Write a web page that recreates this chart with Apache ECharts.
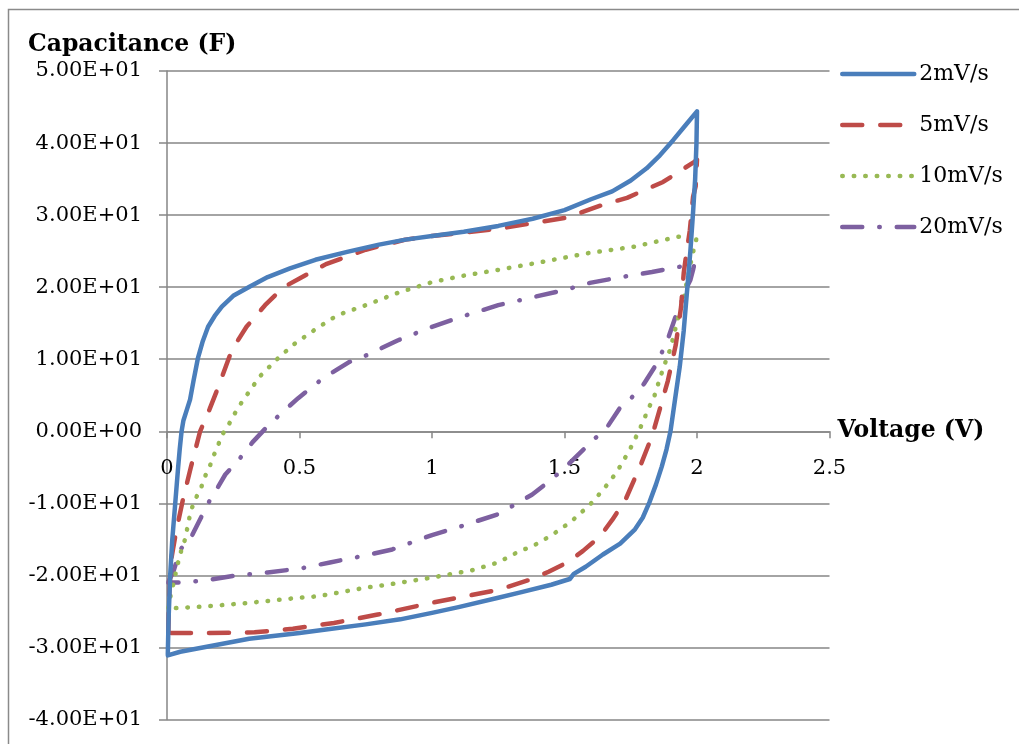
<!DOCTYPE html>
<html><head><meta charset="utf-8">
<script src="https://cdn.jsdelivr.net/npm/echarts@6/dist/echarts.min.js"></script>
<style>html,body{margin:0;padding:0;background:#fff}#c{width:1019px;height:744px}</style>
</head><body><div id="c"></div>
<script>
var seriesNames = ['2mV/s', '5mV/s', '10mV/s', '20mV/s'];
var xTicks = ['0', '0.5', '1', '1.5', '2', '2.5'];

var x2 = [0.003,0.006,0.012,0.02,0.03,0.042,0.048,0.055,0.062,0.075,0.087,0.1,0.117,0.135,0.155,0.18,0.207,0.25,0.313,0.38,0.464,0.56,0.68,0.8,0.9,1.0,1.12,1.25,1.38,1.5,1.6,1.68,1.75,1.81,1.86,1.91,1.955,2.0,
  1.998,1.993,1.985,1.975,1.966,1.958,1.95,1.935,1.917,1.9,1.885,1.867,1.845,1.82,1.795,1.766,1.71,1.645,1.58,1.535,1.52,1.45,1.33,1.25,1.1,1.0,0.88,0.75,0.6,0.5,0.31,0.15,0.05,0.003];
var y2 = [-31,-26,-20,-15,-10.5,-5,-2.5,0,1.5,3,4.4,7,10.2,12.5,14.5,16,17.3,18.8,20.1,21.4,22.6,23.8,24.9,25.9,26.6,27.1,27.7,28.5,29.5,30.7,32.2,33.3,34.8,36.5,38.3,40.4,42.4,44.4,
  40,35,30.3,25,21,17.5,14,9,4.4,0,-2.5,-4.9,-7.4,-9.9,-12,-13.6,-15.6,-17.1,-18.8,-19.8,-20.5,-21.3,-22.4,-23.1,-24.4,-25.2,-26.1,-26.8,-27.5,-28,-28.8,-29.9,-30.6,-31.1];

var x5 = [0.005,0.008,0.015,0.034,0.06,0.09,0.125,0.16,0.19,0.245,0.3,0.37,0.44,0.5,0.6,0.75,0.9,1.0,1.25,1.5,1.558,1.65,1.736,1.872,1.99,2.0,
  1.995,1.985,1.973,1.96,1.95,1.94,1.92,1.89,1.87,1.83,1.785,1.73,1.68,1.634,1.57,1.51,1.44,1.37,1.25,1.0,0.8,0.63,0.475,0.33,0.15,0.01];
var y5 = [-28,-23,-18,-14,-9.5,-5,0,3,5.8,11.3,14.5,17.5,20,21.2,23.2,25.2,26.6,27.1,28.1,29.6,30.3,31.5,32.4,34.6,37.4,37.7,
  34,32.5,27.9,24.7,22,17.3,12,7,4.4,-0.7,-4.9,-9.5,-12.3,-14.6,-16.6,-18.2,-19.5,-20.6,-22,-23.8,-25.4,-26.6,-27.4,-27.9,-28,-28];

var x10 = [0.005,0.01,0.025,0.04,0.05,0.068,0.09,0.11,0.13,0.143,0.162,0.177,0.193,0.21,0.234,0.253,0.276,0.31,0.35,0.415,0.476,0.546,0.62,0.665,0.75,0.87,1.0,1.12,1.25,1.4,1.5,1.585,1.76,1.93,2.0,
  1.995,1.99,1.98,1.966,1.955,1.95,1.936,1.925,1.9,1.875,1.857,1.835,1.815,1.8,1.78,1.763,1.743,1.72,1.7,1.672,1.646,1.62,1.588,1.555,1.524,1.487,1.453,1.415,1.377,1.332,1.25,1.15,1.0,0.83,0.75,0.57,0.5,0.313,0.15,0.05,0.005];
var y10 = [-24.5,-23.4,-21,-18.5,-17,-15,-11,-9.2,-7.7,-6.3,-4.8,-3.3,-1.9,-0.4,1,2.3,3.7,5.5,7.6,10,12,13.8,15.6,16.4,17.5,19.2,20.7,21.6,22.4,23.4,24.1,24.7,25.6,27,27.2,
  26.2,25.6,24,21.4,19.6,18.2,16.8,15.2,11.5,9,7,4.4,3.1,1.6,0,-1.3,-2.8,-4.2,-5.5,-6.9,-8.1,-9.2,-10.5,-11.5,-12.6,-13.5,-14.4,-15.2,-16,-16.6,-18.2,-19.3,-20.3,-21.3,-21.7,-22.9,-23.1,-23.8,-24.3,-24.5,-24.6];

var x20 = [0.005,0.01,0.023,0.05,0.087,0.155,0.18,0.22,0.27,0.323,0.377,0.434,0.495,0.59,0.687,0.75,0.87,1.0,1.12,1.25,1.38,1.5,1.596,1.715,1.83,1.93,1.99,
  1.985,1.975,1.96,1.94,1.917,1.89,1.85,1.8,1.747,1.71,1.665,1.59,1.55,1.495,1.426,1.377,1.25,1.1,1.0,0.85,0.74,0.615,0.51,0.38,0.264,0.143,0.05,0.005];
var y20 = [-21,-20.5,-19.6,-16.4,-15,-10,-8.5,-6,-4,-1.5,0.6,2.6,4.6,7.4,9.6,10.5,12.6,14.5,16,17.5,18.6,19.6,20.6,21.4,22.1,22.8,23.2,
  22.4,21,19.9,17.8,15.7,12.8,9.5,6.6,4.4,3.3,0.8,-1.9,-3.3,-5.3,-7.4,-8.8,-11.5,-13.3,-14.4,-16.4,-17.3,-18.2,-19,-19.6,-20,-20.7,-21,-21];

function zip(xs, ys){ return xs.map(function(x,i){ return [x, ys[i]]; }); }
var colors = ['#4A7EBB', '#BE4B48', '#98B954', '#7D60A0'];
var styles = [
  {width:4.5, type:'solid', cap:'round', join:'round'},
  {width:4.5, type:[20,18], cap:'round', join:'round'},
  {width:4.5, type:[0.5,11], cap:'round', join:'round'},
  {width:4.5, type:[20,17,0.5,17], cap:'round', join:'round'}
];
var datas = [zip(x2,y2), zip(x5,y5), zip(x10,y10), zip(x20,y20)];

function sci(v){
  if (v === 0) return '0.00E+00';
  var e = Math.floor(Math.log10(Math.abs(v)) + 1e-9);
  var m = v / Math.pow(10, e);
  return m.toFixed(2) + 'E' + (e < 0 ? '-' : '+') + String(Math.abs(e)).padStart(2, '0');
}

var FONT = 'DejaVu Serif';
var GRID_TOP = 71, GRID_BOTTOM = 24.5, Y_MIN = -40, Y_MAX = 50;
var plotH = 744 - GRID_TOP - GRID_BOTTOM;
var zeroOffset = plotH * (0 - Y_MIN) / (Y_MAX - Y_MIN);

var chart = echarts.init(document.getElementById('c'), null, {renderer:'canvas'});
chart.setOption({
  animation: false,
  backgroundColor: '#fff',
  title: {text:'Capacitance (F)', left: 28, top: 33, padding: 0,
    textStyle:{fontFamily:FONT, fontWeight:'bold', fontSize:23.5, color:'#000'}},
  graphic: [{type:'rect', shape:{x:8.5, y:9.5, width:1200, height:1000}, style:{fill:null, stroke:'#8a8a8a', lineWidth:1.5}, z:-1}],
  legend: {orient:'vertical', left: 835, top: 58, itemWidth: 72, itemHeight: 4, itemGap: 29,
    itemStyle:{color:'rgba(0,0,0,0)', borderWidth:0, opacity:0},
    lineStyle:{width:4.5, cap:'round'},
    textStyle:{fontFamily:FONT, fontSize:22, color:'#000'}, data: seriesNames},
  grid: {left:167, right:189.5, top:GRID_TOP, bottom:GRID_BOTTOM, containLabel:false, outerBoundsMode:'none'},
  xAxis: [{type:'value', min:0, max:2.5, interval:0.5,
    name:'Voltage (V)', nameLocation:'end', nameGap:8,
    nameTextStyle:{fontFamily:FONT, fontWeight:'bold', fontSize:23.5, color:'#000', verticalAlign:'middle', padding:[0,0,5,0]},
    axisLine:{onZero:true, onZeroAxisIndex:0, lineStyle:{color:'#868686', width:1.5}},
    axisTick:{show:true, inside:false, length:7, lineStyle:{color:'#868686', width:1.5}},
    axisLabel:{show:false},
    splitLine:{show:false}},
   {type:'value', min:0, max:2.5, interval:0.5, position:'bottom', offset:-zeroOffset,
    axisLine:{show:false, onZero:false}, axisTick:{show:false}, splitLine:{show:false},
    axisLabel:{margin:27, fontFamily:FONT, fontSize:21, color:'#000',
      formatter:function(v){ return xTicks[Math.round(v/0.5)]; }}}],
  yAxis: {type:'value', min:Y_MIN, max:Y_MAX, interval:10,
    axisLine:{show:true, onZero:false, lineStyle:{color:'#868686', width:1.5}},
    axisTick:{show:true, inside:false, length:8, lineStyle:{color:'#868686', width:1.5}},
    axisLabel:{margin:25, fontFamily:FONT, fontSize:21, color:'#000', formatter:sci},
    splitLine:{show:true, lineStyle:{color:'#868686', width:1.5}}},
  series: seriesNames.map(function(n,i){
    return {name:n, type:'line', xAxisIndex:0, data:datas[i], symbol:'none', smooth:false,
      color: colors[i], lineStyle: Object.assign({color:colors[i]}, styles[i]), z: 10 - i};
  })
});
</script></body></html>
